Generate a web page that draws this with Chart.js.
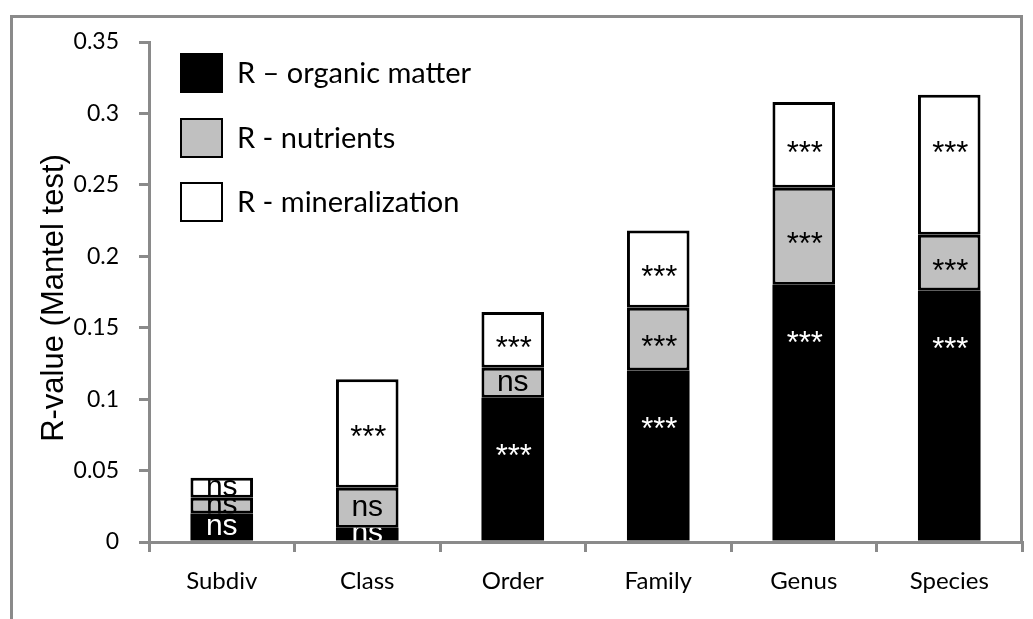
<!DOCTYPE html>
<html>
<head>
<meta charset="utf-8">
<script src="https://cdn.jsdelivr.net/npm/chart.js@4/dist/chart.umd.min.js"></script>
<style>
  html, body { margin: 0; padding: 0; background: #fff; }
  #wrap { position: relative; width: 1033px; height: 619px; }
</style>
</head>
<body>
<div id="wrap"><canvas id="chart" width="1033" height="619"></canvas></div>
<script>
// ---- data ----
const categories = ['Subdiv', 'Class', 'Order', 'Family', 'Genus', 'Species'];
const organicMatter = [0.020, 0.010, 0.101, 0.120, 0.180, 0.176];
const nutrients = [0.011, 0.028, 0.021, 0.044, 0.068, 0.039];
const mineralization = [0.014, 0.076, 0.039, 0.054, 0.060, 0.098];
const organicSig = ['ns', 'ns', '***', '***', '***', '***'];
const nutrientSig = ['ns', 'ns', 'ns', '***', '***', '***'];
const mineralSig = ['ns', '***', '***', '***', '***', '***'];
const yTickLabels = ['0', '0.05', '0.1', '0.15', '0.2', '0.25', '0.3', '0.35'];

const AXIS_GREY = '#8a8a8a';
const BAR_GREY = '#c0c0c0';

// significance labels, clipped to their own segment;
// tall segments get the label near the top, like the original
const segmentLabels = {
  id: 'segmentLabels',
  afterDatasetsDraw(chart) {
    const ctx = chart.ctx;
    chart.data.datasets.forEach((ds, di) => {
      const meta = chart.getDatasetMeta(di);
      meta.data.forEach((bar, i) => {
        const txt = ds.sig[i];
        const top = Math.min(bar.y, bar.base);
        const h = Math.abs(bar.base - bar.y);
        const left = bar.x - bar.width / 2;
        const mid = Math.min(top + h / 2, top + 50);
        ctx.save();
        ctx.beginPath();
        ctx.rect(left, top, bar.width, h);
        ctx.clip();
        ctx.fillStyle = ds.textColor;
        ctx.textAlign = 'center';
        ctx.textBaseline = 'alphabetic';
        if (txt === 'ns') {
          ctx.font = '30px "Liberation Sans", Arial, sans-serif';
          ctx.fillText(txt, bar.x, mid + 8);
        } else {
          ctx.font = '31px "Liberation Sans", Arial, sans-serif';
          ctx.fillText(txt, bar.x + 1, mid + 18);
        }
        ctx.restore();
      });
    });
  }
};

// legend in the top-left, frame and axis title
const decorations = {
  id: 'decorations',
  afterDraw(chart) {
    const ctx = chart.ctx;
    const area = chart.chartArea;
    ctx.save();
    // outer frame
    ctx.strokeStyle = AXIS_GREY;
    ctx.lineWidth = 3;
    ctx.beginPath();
    ctx.moveTo(11.5, 619);
    ctx.lineTo(11.5, 16.5);
    ctx.lineTo(1021.5, 16.5);
    ctx.lineTo(1021.5, area.bottom);
    ctx.stroke();

    // y axis title
    ctx.fillStyle = '#000';
    ctx.font = '31px "Liberation Sans", Arial, sans-serif';
    ctx.textAlign = 'center';
    ctx.textBaseline = 'alphabetic';
    ctx.translate(63, 298);
    ctx.rotate(-Math.PI / 2);
    ctx.fillText('R-value (Mantel test)', 0, 0);
    ctx.restore();

    // legend
    ctx.save();
    const rows = [73, 138, 202];
    chart.data.datasets.forEach((ds, k) => {
      const cy = rows[k];
      ctx.fillStyle = ds.backgroundColor;
      ctx.fillRect(180, cy - 20, 43, 40);
      if (ds.borderWidth) {
        ctx.strokeStyle = '#000';
        ctx.lineWidth = 2;
        ctx.strokeRect(181, cy - 19, 41, 38);
      }
      ctx.fillStyle = '#000';
      ctx.font = '29px Lato, "Open Sans", sans-serif';
      ctx.textAlign = 'left';
      ctx.textBaseline = 'middle';
      ctx.fillText(ds.label, 237, cy + 1);
    });
    ctx.restore();
  }
};

const chart = new Chart(document.getElementById('chart'), {
  type: 'bar',
  data: {
    labels: categories,
    datasets: [
      {
        label: 'R \u2013 organic matter',
        data: organicMatter,
        sig: organicSig,
        textColor: '#fff',
        backgroundColor: '#000',
        borderWidth: 0
      },
      {
        label: 'R - nutrients',
        data: nutrients,
        sig: nutrientSig,
        textColor: '#000',
        backgroundColor: BAR_GREY,
        borderColor: '#000',
        borderWidth: 3,
        borderSkipped: false
      },
      {
        label: 'R - mineralization',
        data: mineralization,
        sig: mineralSig,
        textColor: '#000',
        backgroundColor: '#fff',
        borderColor: '#000',
        borderWidth: 3,
        borderSkipped: false
      }
    ]
  },
  options: {
    responsive: false,
    animation: false,
    barPercentage: 0.43,
    categoryPercentage: 1,
    layout: { padding: { top: 42, right: 11, left: 0, bottom: 0 } },
    plugins: {
      legend: { display: false },
      tooltip: { enabled: false }
    },
    scales: {
      x: {
        stacked: true,
        grid: {
          offset: true,
          drawOnChartArea: false,
          tickLength: 10,
          color: AXIS_GREY,
          lineWidth: 3
        },
        border: { color: AXIS_GREY, width: 3 },
        ticks: {
          color: '#000',
          padding: 15,
          font: { family: 'Lato, "Open Sans", sans-serif', size: 24 }
        },
        afterFit(scale) { scale.height = 77; }
      },
      y: {
        stacked: true,
        min: 0,
        max: 0.35,
        grid: {
          drawOnChartArea: false,
          tickLength: 10,
          color: AXIS_GREY,
          lineWidth: 3
        },
        border: { color: AXIS_GREY, width: 3 },
        ticks: {
          stepSize: 0.05,
          color: '#000',
          padding: 20,
          font: { family: 'Lato, "Open Sans", sans-serif', size: 23 },
          callback: (v, i) => yTickLabels[i]
        },
        afterFit(scale) { scale.width = 149; }
      }
    }
  },
  plugins: [segmentLabels, decorations]
});
</script>
</body>
</html>
